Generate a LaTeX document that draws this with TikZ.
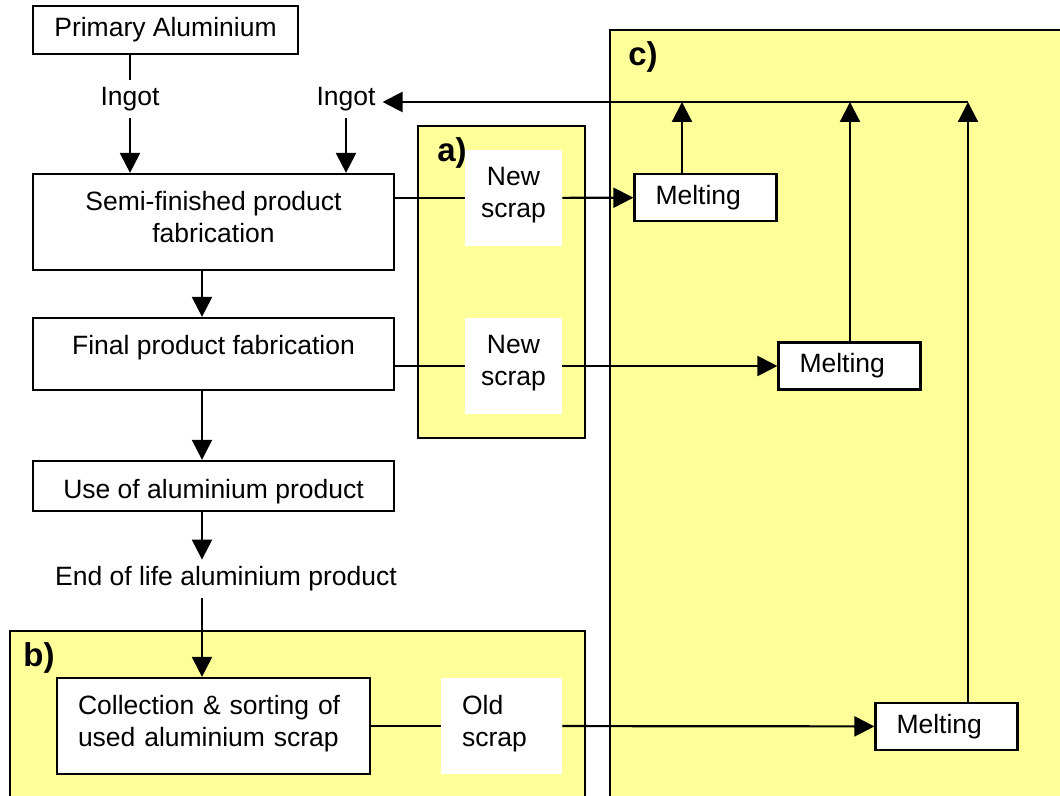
\documentclass[tikz,border=0pt]{standalone}
\usepackage{fontspec}
\setmainfont{Liberation Sans}
\usetikzlibrary{arrows.meta}
\definecolor{zoneyellow}{RGB}{255,255,153}

\begin{document}
\begin{tikzpicture}[x=0.5pt, y=-0.5pt,
    every node/.style={font=\fontsize{13.25}{16}\selectfont},
    zone/.style={draw, line width=1.1pt, fill=zoneyellow},
    tag/.style={font=\fontsize{16.5}{18}\selectfont\bfseries},
    box/.style={draw, line width=1.1pt, fill=white},
    scrap/.style={fill=white, minimum width=48.5pt, minimum height=48pt},
    melt/.style={box, align=left, text width=50pt, inner xsep=10.5pt, minimum height=23.5pt},
    textup/.style={execute at end node={\rule[-#1]{0pt}{#1}}},
    textdown/.style={execute at begin node={\rule{0pt}{#1}}},
    wire/.style={line width=1.1pt},
    flow/.style={line width=1.1pt, -{Triangle[length=10pt, width=10pt]}}]
    \useasboundingbox (0,0) rectangle (1060,796);
    \clip (0,0) rectangle (1060,796);
    % zones
    \draw [zone]     (610,30) rectangle (1075,810);
    \draw [zone]     (10,631) rectangle (585,810);
    \draw [zone]     (418,126) rectangle (585,438);
    \node [tag] (tagA) at (452,153) {a)};
    \node [tag] (tagB) at (39,658) {b)};
    \node [tag] (tagC) at (643,57) {c)};
    % main chain
    \coordinate (spine) at (202,0);
    \node [box, minimum width=132.5pt, minimum height=24pt] (prim) at (165.5,30) {Primary Aluminium};
    \node (ingotL) at (130,99) {Ingot};
    \node (ingotR) at (346,99) {Ingot};
    \node [box, align=center, textup=5.5pt, minimum width=180.5pt, minimum height=48pt] (semi) at (213.5,222) {Semi-finished product\\fabrication};
    \node [box, textup=8.8pt, minimum width=180.5pt, minimum height=36pt] (final) at (213.5,354) {Final product fabrication};
    \node [box, textdown=15.6pt, minimum width=180.5pt, minimum height=24pt] (use) at (213.5,486) {Use of aluminium product};
    \node (endl) at (226,579) {End of life aluminium product};
    \node [box, align=left, textup=5.3pt, text width=135.5pt, inner xsep=10.5pt, minimum height=48pt] (coll) at (213.5,726) {Collection \& sorting of\\used aluminium scrap};
    % scrap
    \node [scrap, align=center, textup=5.8pt] (new1) at (513.5,198) {New\\scrap};
    \node [scrap, align=center, textup=5.8pt] (new2) at (513.5,366) {New\\scrap};
    \node [scrap, align=left, textup=5.3pt, text width=39.5pt, inner xsep=10.5pt] (old) at (501.5,726) {Old\\scrap};
    % melting
    \node [melt] (melt1) at (705.5,197.5) {Melting};
    \node [melt] (melt2) at (849.5,366) {Melting};
    \node [melt] (melt3) at (946.5,726.5) {Melting};
    \coordinate (ret) at (968,102);
    \coordinate (up1) at (682,102);
    \coordinate (up2) at (850,102);
    % connectors
    \draw [wire]     (prim.south -| ingotL) -- (ingotL);
    \draw [flow]     (ingotL) -- (ingotL |- semi.north);
    \draw [flow]     (ingotR) -- (ingotR |- semi.north);
    \draw [flow]     (semi.south -| spine) -- (final.north -| spine);
    \draw [flow]     (final.south -| spine) -- (use.north -| spine);
    \draw [flow]     (use.south -| spine) -- (endl.north -| spine);
    \draw [flow]     (endl.south -| spine) -- (coll.north -| spine);
    \draw [wire]     (semi.east |- new1) -- (new1);
    \draw [flow]     (new1) -- (melt1);
    \draw [wire]     (final.east |- new2) -- (new2);
    \draw [flow]     (new2) -- (melt2);
    \draw [wire]     (coll) -- (old);
    \draw [flow]     (old) -- (melt3);
    \draw [flow]     (melt1.north -| up1) -- (up1);
    \draw [flow]     (melt2.north -| up2) -- (up2);
    \draw [flow]     (melt3.north -| ret) -- (ret);
    \draw [flow]     (ret) -- (ret -| ingotR.east);
\end{tikzpicture}
\end{document}
